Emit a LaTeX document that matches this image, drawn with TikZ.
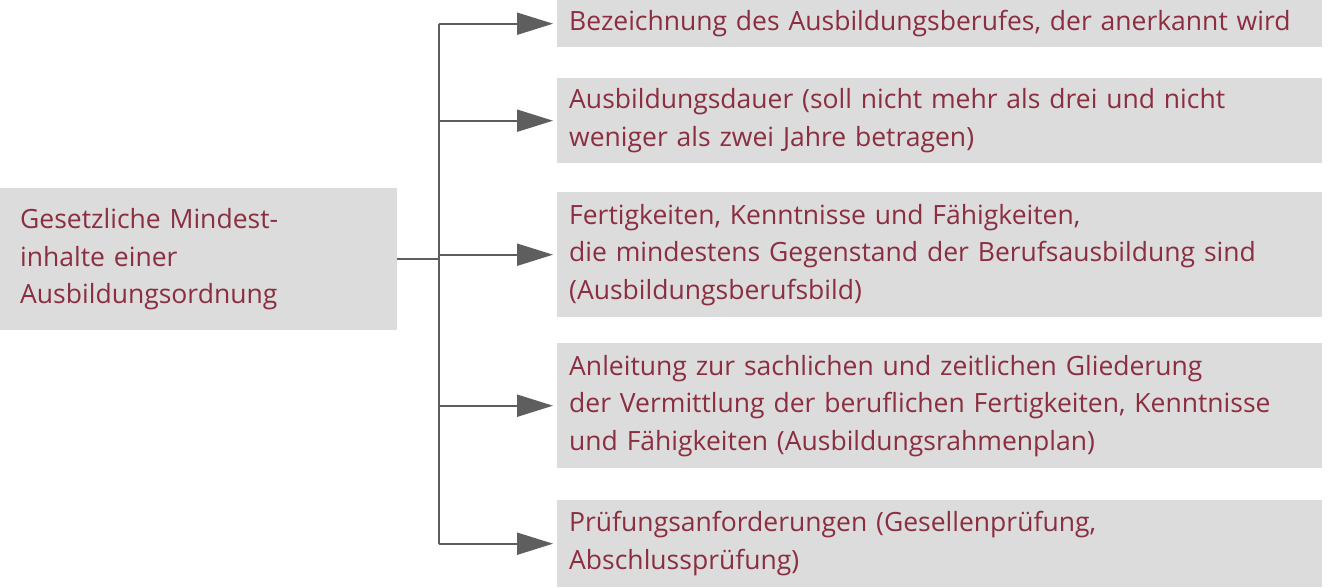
\documentclass[tikz,border=0pt]{standalone}
\usepackage{fontspec}
\setmainfont{Open Sans}
\usepackage{tikz}
\usetikzlibrary{matrix,arrows.meta,positioning,calc}

\definecolor{boxgray}{HTML}{DCDCDC}
\definecolor{wine}{HTML}{8A2E40}
\definecolor{linegray}{HTML}{5E5E5E}

\begin{document}
\begin{tikzpicture}[x=1pt,y=-1pt,
		inhalt/.style={fill=boxgray, text=wine, align=left, anchor=west,
					inner xsep=12pt, inner ysep=0pt, text width=741pt,
					font=\fontsize{26.5}{37.5}\selectfont},
		verbinder/.style={draw=linegray, line width=2pt},
		pfeil/.style={verbinder, -{Triangle[length=36pt,width=22pt]}, shorten >=4pt}]
		\useasboundingbox (0,0) rectangle (1328,587);

		\matrix (m)[matrix of nodes, row sep=29pt, anchor=north west, inner sep=0pt,
					nodes={inhalt}] at (557,0)
		{
		|[minimum height=47pt]| Bezeichnung des Ausbildungsberufes, der anerkannt wird \\[2pt]
		|[minimum height=85pt]| {Ausbildungsdauer (soll nicht mehr als drei und nicht\\ weniger als zwei Jahre betragen)} \\
		|[minimum height=125pt]| {Fertigkeiten, Kenntnisse und Fähigkeiten,\\ die mindestens Gegenstand der Berufsausbildung sind\\ (Ausbildungsberufsbild)} \\[-3pt]
		|[minimum height=125pt]| {Anleitung zur sachlichen und zeitlichen Gliederung\\ der Vermittlung der beruflichen Fertigkeiten, Kenntnisse\\ und Fähigkeiten (Ausbildungsrahmenplan)} \\[3pt]
		|[minimum height=87pt]| {Prüfungsanforderungen (Gesellenprüfung,\\ Abschlussprüfung)} \\
		};

		\node (mindest)[inhalt, anchor=north west, text width=357pt, inner xsep=20pt,
					minimum height=142pt] at (0,188)
					{Gesetzliche Mindest-\\ inhalte einer\\ Ausbildungsordnung};

		\coordinate[right=42pt of mindest.east] (knoten);
		\draw[verbinder] (mindest.east)--(knoten);
		\draw[verbinder] (knoten |- m-1-1.west)--(knoten |- m-5-1.west);
		\foreach \i in {1,...,5}
			\draw[pfeil] (knoten |- m-\i-1.west)--(m-\i-1.west);
	\end{tikzpicture}
\end{document}
